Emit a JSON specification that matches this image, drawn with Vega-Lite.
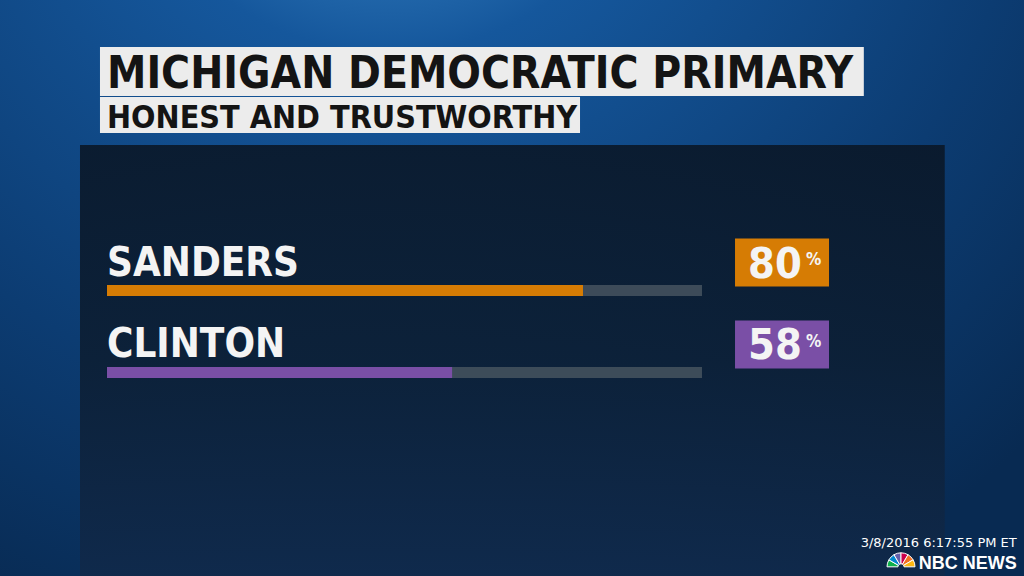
{
  "$schema": "https://vega.github.io/schema/vega-lite/v6.json",
  "description": "Michigan Democratic primary: honest and trustworthy",
  "width": 1024,
  "height": 576,
  "autosize": {"type": "fit", "contains": "padding"},
  "padding": 0,
  "background": "#0b3566",
  "config": {"view": {"stroke": null}},
  "data": {
    "values": [
      {"candidate": "SANDERS", "rank": 1, "pct": 80},
      {"candidate": "CLINTON", "rank": 2, "pct": 58}
    ]
  },
  "layer": [
    {
      "description": "blue backdrop",
      "data": {"values": [{}]},
      "mark": {
        "type": "rect",
        "color": {
          "gradient": "radial",
          "x1": 0.38, "y1": 0.0, "r1": 0,
          "x2": 0.38, "y2": 0.0, "r2": 0.9,
          "stops": [
            {"offset": 0, "color": "#4a9ad8"},
            {"offset": 0.3, "color": "#15579c"},
            {"offset": 0.7, "color": "#0c3c72"},
            {"offset": 1, "color": "#082a52"}
          ]
        }
      },
      "encoding": {
        "x": {"datum": -17.983, "type": "quantitative", "scale": {"domain": [-17.983, 154.12], "nice": false, "zero": false}, "axis": null},
        "x2": {"datum": 154.12},
        "y": {"datum": -2.543, "type": "quantitative", "scale": {"domain": [-2.543, 4.482], "reverse": true, "nice": false, "zero": false}, "axis": null},
        "y2": {"datum": 4.482}
      }
    },
    {
      "description": "dark panel",
      "data": {"values": [{}]},
      "mark": {
        "type": "rect",
        "color": {
          "gradient": "linear",
          "x1": 0, "y1": 0, "x2": 0, "y2": 1,
          "stops": [
            {"offset": 0, "color": "#0a1727"},
            {"offset": 0.5, "color": "#0c1e33"},
            {"offset": 1, "color": "#10294a"}
          ]
        },
        "opacity": 0.9
      },
      "encoding": {
        "x": {"datum": -4.54, "type": "quantitative"},
        "x2": {"datum": 140.8},
        "y": {"datum": -0.774, "type": "quantitative"},
        "y2": {"datum": 4.482}
      }
    },
    {
      "description": "title box",
      "data": {"values": [{}]},
      "mark": {"type": "rect", "color": "#ececec"},
      "encoding": {
        "x": {"datum": -1.18, "type": "quantitative"},
        "x2": {"datum": 127.2},
        "y": {"datum": -1.97, "type": "quantitative"},
        "y2": {"datum": -1.372}
      }
    },
    {
      "description": "subtitle box",
      "data": {"values": [{}]},
      "mark": {"type": "rect", "color": "#ececec"},
      "encoding": {
        "x": {"datum": -1.18, "type": "quantitative"},
        "x2": {"datum": 79.5},
        "y": {"datum": -1.36, "type": "quantitative"},
        "y2": {"datum": -0.921}
      }
    },
    {
      "data": {"values": [{}]},
      "mark": {"type": "text", "text": "MICHIGAN DEMOCRATIC PRIMARY", "align": "left", "baseline": "alphabetic", "font": "DejaVu Sans Condensed", "fontWeight": "bold", "fontSize": 44, "color": "#141414"},
      "encoding": {
        "x": {"datum": 0, "type": "quantitative"},
        "y": {"datum": -1.47, "type": "quantitative"}
      }
    },
    {
      "data": {"values": [{}]},
      "mark": {"type": "text", "text": "HONEST AND TRUSTWORTHY", "align": "left", "baseline": "alphabetic", "font": "DejaVu Sans Condensed", "fontWeight": "bold", "fontSize": 32, "color": "#141414"},
      "encoding": {
        "x": {"datum": 0, "type": "quantitative"},
        "y": {"datum": -0.982, "type": "quantitative"}
      }
    },
    {
      "description": "grey track",
      "mark": {"type": "rule", "strokeWidth": 11, "strokeCap": "butt", "color": "#46535f", "opacity": 0.85},
      "encoding": {
        "x": {"datum": 0, "type": "quantitative"},
        "x2": {"datum": 100},
        "y": {"field": "rank", "type": "quantitative"}
      }
    },
    {
      "description": "value bar",
      "mark": {"type": "rule", "strokeWidth": 11, "strokeCap": "butt"},
      "encoding": {
        "x": {"field": "pct", "type": "quantitative"},
        "x2": {"datum": 0},
        "y": {"field": "rank", "type": "quantitative"},
        "color": {
          "field": "candidate", "type": "nominal",
          "scale": {
            "domain": ["SANDERS", "CLINTON", "a", "b", "c", "d", "e", "f"],
            "range": ["#d67c04", "#7a4fa6", "#0db14b", "#0089d0", "#6460aa", "#cc004c", "#f37021", "#fcb711"]
          },
          "legend": null
        }
      }
    },
    {
      "description": "candidate names",
      "mark": {"type": "text", "align": "left", "baseline": "alphabetic", "dy": -15, "font": "DejaVu Sans Condensed", "fontWeight": "bold", "fontSize": 40, "color": "#f4f4f4"},
      "encoding": {
        "x": {"datum": 0, "type": "quantitative"},
        "y": {"field": "rank", "type": "quantitative"},
        "text": {"field": "candidate", "type": "nominal"}
      }
    },
    {
      "description": "value boxes",
      "mark": {"type": "rect", "yOffset": -52, "y2Offset": -4},
      "encoding": {
        "x": {"datum": 105.55, "type": "quantitative"},
        "x2": {"datum": 121.35},
        "y": {"field": "rank", "type": "quantitative"},
        "y2": {"field": "rank"},
        "color": {"field": "candidate", "type": "nominal", "legend": null}
      }
    },
    {
      "description": "value numbers",
      "mark": {"type": "text", "align": "right", "baseline": "alphabetic", "dy": -13, "font": "DejaVu Sans Condensed", "fontWeight": "bold", "fontSize": 43, "color": "#f4f4f4"},
      "encoding": {
        "x": {"datum": 116.8, "type": "quantitative"},
        "y": {"field": "rank", "type": "quantitative"},
        "text": {"field": "pct", "type": "quantitative"}
      }
    },
    {
      "description": "percent signs",
      "mark": {"type": "text", "text": "%", "align": "left", "baseline": "alphabetic", "dy": -25.5, "font": "DejaVu Sans Condensed", "fontWeight": "bold", "fontSize": 17, "color": "#f4f4f4"},
      "encoding": {
        "x": {"datum": 117.5, "type": "quantitative"},
        "y": {"field": "rank", "type": "quantitative"}
      }
    },
    {
      "data": {"values": [{}]},
      "mark": {"type": "text", "text": "3/8/2016 6:17:55 PM ET", "align": "right", "baseline": "alphabetic", "font": "DejaVu Sans", "fontSize": 13, "color": "#ffffff"},
      "encoding": {
        "x": {"datum": 152.9, "type": "quantitative"},
        "y": {"datum": 4.128, "type": "quantitative"}
      }
    },
    {
      "description": "peacock logo",
      "data": {
        "values": [
          {"feather": "a", "share": 1},
          {"feather": "b", "share": 1},
          {"feather": "c", "share": 1},
          {"feather": "d", "share": 1},
          {"feather": "e", "share": 1},
          {"feather": "f", "share": 1}
        ]
      },
      "mark": {"type": "arc", "radius": 14, "radius2": 3, "stroke": "#ffffff", "strokeWidth": 1},
      "encoding": {
        "x": {"datum": 133.45, "type": "quantitative"},
        "y": {"datum": 4.37, "type": "quantitative"},
        "theta": {"field": "share", "type": "quantitative", "stack": true, "scale": {"range": [-1.5708, 1.5708]}},
        "color": {"field": "feather", "type": "nominal", "legend": null}
      }
    },
    {
      "data": {"values": [{}]},
      "mark": {"type": "text", "text": "NBC NEWS", "align": "right", "baseline": "alphabetic", "font": "Liberation Sans", "fontWeight": "bold", "fontSize": 18, "color": "#ffffff"},
      "encoding": {
        "x": {"datum": 152.9, "type": "quantitative"},
        "y": {"datum": 4.396, "type": "quantitative"}
      }
    }
  ]
}
